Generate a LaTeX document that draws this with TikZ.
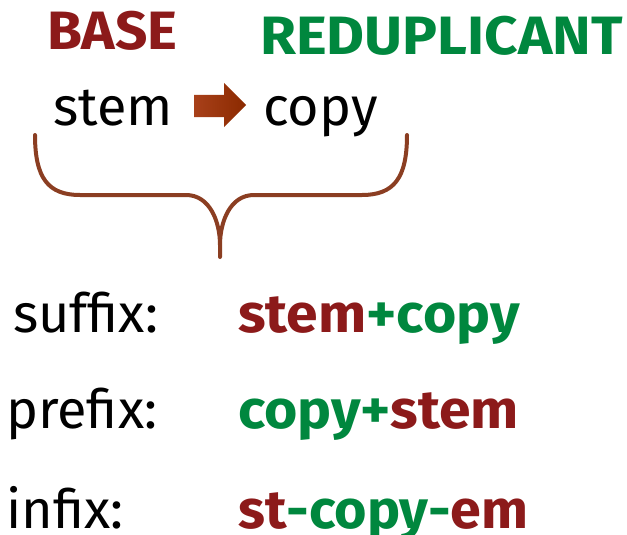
\documentclass[tikz,border=0pt]{standalone}
\usepackage{fontspec}
\setmainfont{Fira Sans}
\usetikzlibrary{shadings}
\definecolor{basered}{HTML}{8C1A1A}
\definecolor{redgreen}{HTML}{00873E}
\definecolor{bracebrown}{HTML}{8B3E22}
\definecolor{arrowlight}{HTML}{A8401A}
\definecolor{arrowdark}{HTML}{8B2A00}
\tikzset{
  lbl/.style={anchor=base west, inner sep=0pt, font=\fontsize{54}{54}\selectfont},
  head/.style={lbl, font=\fontsize{54}{54}\selectfont\bfseries},
}
\newcommand{\B}[1]{\textcolor{basered}{#1}}
\newcommand{\R}[1]{\textcolor{redgreen}{#1}}
\newcommand{\wide}[2]{\scalebox{#1}[1]{#2}}
\begin{document}
\begin{tikzpicture}[x=1pt,y=-1pt]
  \useasboundingbox (0,0) rectangle (627,535);
  % headings
  \node[head, text=basered] (base) at (47,50) {\wide{1.05}{BASE}};
  \node[head, text=redgreen] (redup) at (260,55) {\wide{1.08}{REDUPLICANT}};
  % stem -> copy
  \node[lbl] (stem) at (53,125) {stem};
  \node[lbl] (copy) at (263,125) {copy};
  \shade[left color=arrowlight, right color=arrowdark]
    (194,95) -- (224,95) -- (224,83) -- (246,105) -- (224,127) -- (224,117) -- (194,117) -- cycle;
  % curly brace under both words
  \coordinate (bl) at (35,135);
  \coordinate (br) at (407,135);
  \coordinate (tip) at (220,257);
  \draw[bracebrown, line width=4pt, line cap=round]
    (bl) .. controls (35,178) and (48,195) .. (80,195) -- (186,195)
    .. controls (210,195) and (220,222) .. (220,245) -- (tip)
    (220,245) .. controls (220,222) and (230,195) .. (254,195) -- (362,195)
    .. controls (394,195) and (407,178) .. (br);
  % the three patterns
  \node[lbl] (suf) at (13,332) {suffix:};
  \node[lbl] (pre) at (6,428) {prefix:};
  \node[lbl] (inf) at (6,528) {infix:};
  \node[head] (sufex) at (238,332) {\wide{1.057}{\B{stem}\R{+copy}}};
  \node[head] (preex) at (238,428) {\wide{1.057}{\R{copy+}\B{stem}}};
  \node[head] (infex) at (238,528) {\wide{1.03}{\B{st}\R{-copy-}\B{em}}};
\end{tikzpicture}
\end{document}
